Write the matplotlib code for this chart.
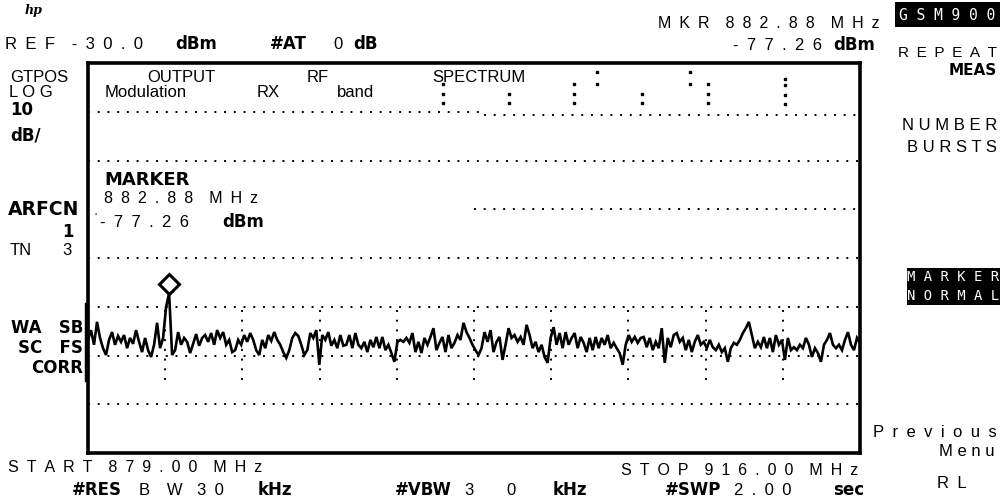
import numpy as np
import matplotlib.pyplot as plt
from matplotlib.patches import Rectangle
from matplotlib.lines import Line2D
from matplotlib.transforms import offset_copy

W, H = 1002, 499

start_mhz, stop_mhz = 879.0, 916.0
ref_dbm = -30.0
db_div = 10.0
n_xdiv, n_ydiv = 10, 8

mkr_mhz = 882.88
mkr_dbm = -77.26

# trace, about one value every 3 px of the graticule
trace_dbm = [
    -86.8, -84.8, -87.8, -83.1, -86.4, -88.5, -89.9, -86.8, -85.2, -87.8,
    -86.0, -87.2, -85.8, -88.5, -86.4, -87.6, -84.8, -87.2, -89.3, -86.4,
    -88.9, -90.3, -87.8, -83.3, -88.5, -86.4, -80.0, -77.26, -89.9, -88.9,
    -85.2, -87.8, -86.4, -87.2, -89.5, -87.6, -85.6, -88.0, -86.4, -85.8,
    -87.2, -85.4, -87.8, -84.8, -86.4, -85.2, -87.8, -86.8, -89.3, -88.9,
    -86.8, -87.8, -85.8, -87.2, -85.4, -86.8, -88.9, -89.9, -86.8, -88.5,
    -85.8, -87.0, -85.2, -86.8, -87.8, -89.3, -90.5, -88.9, -86.4, -85.4,
    -86.0, -87.8, -89.9, -88.9, -85.4, -86.4, -84.8, -91.9, -85.8, -86.8,
    -85.2, -88.0, -86.8, -88.5, -85.8, -88.0,
    -87.8, -85.8, -88.5, -85.4, -87.8, -88.5, -87.2, -89.3, -86.8, -88.3,
    -86.2, -88.5, -86.2, -88.9, -87.8, -89.5, -91.3, -87.2, -86.8, -87.2,
    -86.4, -87.4, -85.4, -89.3, -87.2, -89.5, -86.4, -87.8, -86.2, -84.4,
    -88.9, -87.4, -86.2, -89.3, -85.8, -88.5, -87.4, -85.8, -86.8, -83.3,
    -85.2, -86.4, -87.8, -88.9, -89.9, -88.5, -85.2, -87.2, -84.8, -89.3,
    -87.2, -86.2, -90.9, -87.8, -84.4, -86.4, -85.8, -87.2, -86.2, -87.8,
    -83.7, -85.8, -88.5, -87.2, -89.3, -87.8, -90.3, -91.5, -86.4, -84.2,
    -87.8, -85.4, -88.5, -85.2, -87.8, -86.4, -85.4, -88.5, -86.2, -87.4,
    -89.3, -86.4, -88.9, -86.2, -88.5, -86.4,
    -87.8, -85.8, -88.5, -87.4, -88.5, -89.5, -91.9, -87.8, -85.8, -87.2,
    -86.2, -87.4, -86.4, -86.2, -88.3, -86.4, -88.9, -87.2, -88.5, -84.4,
    -91.5, -86.4, -88.3, -85.8, -85.4, -87.2, -86.4, -88.9, -86.8, -89.3,
    -87.2, -85.8, -87.8, -87.2, -88.5, -86.8, -88.3, -88.9, -87.8, -89.3,
    -88.5, -91.3, -88.5, -87.4, -87.8, -86.8, -85.4, -84.4, -83.1, -85.8,
    -88.5, -87.2, -88.3, -86.2, -88.5, -86.4, -89.3, -85.8, -87.8, -86.8,
    -90.9, -86.4, -88.9, -88.3, -88.9, -87.8, -88.5, -86.4, -87.8, -90.3,
    -88.5, -89.5, -91.3, -87.8, -86.8, -85.4, -87.8, -88.5, -87.8, -88.9,
    -86.8, -85.2, -87.8, -88.9, -86.4, -87.4,
]

# dotted graticule lines: level and span in MHz (upper ones are cut / stepped)
grid_level = [-40.0, -40.7, -50.0, -60.0, -70.0, -80.0, -90.0, -100.0]
grid_from = [879.0, 898.0, 879.0, 897.5, 879.0, 879.0, 879.0, 879.0]
grid_to = [898.0, 916.0, 916.0, 916.0, 916.0, 916.0, 916.0, 916.0]

# short dotted vertical ticks around the trace band
vtick_top, vtick_bot = -80.0, -95.0

# ":" marks under the OUTPUT RF SPECTRUM header
colon_mhz = ([896.0] * 3 + [899.2] * 2 + [902.3] * 3 + [903.4] * 2
             + [905.55] * 2 + [907.85] * 2 + [908.7] * 3 + [912.4] * 4)
colon_dbm = [-34.3, -36.4, -38.2, -36.4, -38.2, -34.3, -36.4, -38.2,
             -31.85, -34.3, -36.4, -38.2, -31.9, -34.3, -34.3, -36.4, -38.2,
             -33.3, -34.5, -36.6, -38.4]

REG = ['Liberation Sans', 'DejaVu Sans']
BOLD = 'DejaVu Sans'
MONO = 'DejaVu Sans Mono'
EN = '\u2002'


def spaced(s, gap=EN):
    # the analyser prints on a fixed character grid, so letters sit far apart
    return (gap * 2).join(gap.join(w) for w in s.split(' '))


def main():
    fig = plt.figure(figsize=(W / 100, H / 100), dpi=100)
    fig.patch.set_facecolor('white')
    ax = fig.add_axes([88 / W, 1 - 453 / H, 772 / W, 390 / H])
    ax.set_xlim(start_mhz, stop_mhz)
    ax.set_ylim(ref_dbm - n_ydiv * db_div, ref_dbm)
    ax.set_xticks([])
    ax.set_yticks([])
    for sp in ax.spines.values():
        sp.set_linewidth(2.6)

    dots = (0, (1, 4))
    ax.hlines(grid_level, grid_from, grid_to, colors='black',
              linestyles=[dots], linewidth=1.4)
    step = (stop_mhz - start_mhz) / n_xdiv
    vx = start_mhz + step * np.arange(1, n_xdiv)
    ax.vlines(vx, vtick_bot, vtick_top, colors='black',
              linestyles=[dots], linewidth=1.4)
    ax.plot(colon_mhz, colon_dbm, 's', ms=2, color='black', ls='none')

    f = np.linspace(start_mhz, stop_mhz, len(trace_dbm))
    ax.plot(f, trace_dbm, color='black', lw=1.9, solid_joinstyle='miter')

    tr = offset_copy(ax.transData, fig=fig, y=9, units='dots')
    ax.plot([mkr_mhz], [mkr_dbm], marker='D', ms=10, mfc='white',
            mec='black', mew=2.2, transform=tr, clip_on=False)

    # thick bit of the left edge next to WA SB / SC FS / CORR
    fig.add_artist(Line2D([86.5 / W] * 2, [1 - 305 / H, 1 - 380 / H],
                          lw=3.2, color='black'))

    def put(x, y, s, fam=REG, size=11.5, ha='left', weight='normal', **kw):
        fig.text(x / W, 1 - y / H, s, ha=ha, va='baseline', family=fam,
                 fontsize=size, fontweight=weight, **kw)

    def bold(x, y, s, ha='left', size=12):
        put(x, y, s, fam=BOLD, size=size, ha=ha, weight='bold')

    # top line
    put(25, 14, 'hp', fam='DejaVu Serif', size=9, style='italic', weight='bold')
    put(5, 49, spaced('REF -30.0'), size=12)
    bold(175, 49, 'dBm')
    bold(270, 49, '#AT')
    put(333, 49, '0', size=12)
    bold(353, 49, 'dB')
    put(880, 28, spaced('MKR 882.88 MHz'), ha='right')
    put(822, 50, spaced('-77.26'), ha='right', size=12)
    bold(833, 50, 'dBm')

    # soft keys
    fig.add_artist(Rectangle((895 / W, 1 - 27 / H), 105 / W, 25 / H,
                             transform=fig.transFigure, fc='black', ec='none'))
    fig.text(947 / W, 1 - 15 / H, 'G S M 9 0 0', ha='center', va='center',
             family=MONO, fontsize=10.5, color='white')
    put(997, 57, spaced('REPEAT'), ha='right', size=11)
    bold(997, 75, 'MEAS', ha='right', size=11)
    put(997, 130, spaced('NUMBER', ' '), ha='right', size=12)
    put(997, 152, spaced('BURSTS', ' '), ha='right', size=12)
    fig.add_artist(Rectangle((907 / W, 1 - 305 / H), 93 / W, 37 / H,
                             transform=fig.transFigure, fc='black', ec='none'))
    fig.text(953 / W, 1 - 277 / H, 'M A R K E R', ha='center', va='center',
             family=MONO, fontsize=10, color='white')
    fig.text(953 / W, 1 - 296 / H, 'N O R M A L', ha='center', va='center',
             family=MONO, fontsize=10, color='white')
    put(997, 437, spaced('Previous'), ha='right', size=12)
    put(995, 456, spaced('Menu', ' '), ha='right', size=12)
    put(937, 488, spaced('RL'), size=12)

    # left annotations
    put(10, 82, 'GTPOS', size=12)
    put(9, 97, spaced('LOG', ' '), size=12)
    bold(10, 115, '10')
    bold(10, 140, 'dB/')
    bold(8, 215, 'ARFCN', size=13.5)
    bold(62, 237, '1')
    put(10, 255, 'TN', size=12)
    put(62, 255, '3', size=12)
    bold(83, 333, 'WA   SB', ha='right')
    bold(83, 353, 'SC   FS', ha='right')
    bold(83, 373, 'CORR', ha='right')

    # header inside the graticule
    put(147, 82, 'OUTPUT', size=12)
    put(307, 82, 'RF', size=12)
    put(432, 82, 'SPECTRUM', size=12)
    put(105, 97, 'Modulation', size=12)
    put(257, 97, 'RX', size=12)
    put(337, 97, 'band', size=12)

    # marker readout block
    bold(104, 185, 'MARKER', size=13)
    put(104, 203, spaced('882.88 MHz'))
    put(94, 221, "'", size=8)
    put(100, 227, spaced('-77.26'), size=12)
    bold(222, 227, 'dBm')

    # bottom lines
    put(8, 472, spaced('START 879.00 MHz'))
    put(858, 475, spaced('STOP 916.00 MHz'), ha='right')
    bold(72, 495, '#RES')
    put(139, 495, spaced('B W'), size=12)
    put(197, 495, spaced('30'), size=12)
    bold(258, 495, 'kHz')
    bold(395, 495, '#VBW')
    put(464, 495, '3', size=12)
    put(506, 495, '0', size=12)
    bold(553, 495, 'kHz')
    bold(665, 495, '#SWP')
    put(734, 495, spaced('2.00'), size=12)
    bold(833, 495, 'sec')

    fig.savefig('out.png', dpi=100, facecolor='white')


if __name__ == '__main__':
    main()
